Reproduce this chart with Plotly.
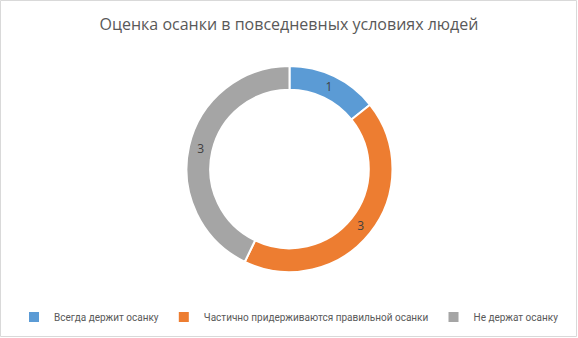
import plotly.graph_objects as go

title = "Оценка осанки в повседневных условиях людей"
labels = ["Всегда держит осанку", "Частично придерживаются правильной осанки", "Не держат осанку"]
values = [1, 3, 3]
colors = ["#5B9BD5", "#ED7D31", "#A5A5A5"]

W, H = 578, 338
cx, cy, R = 289.5, 169, 103

fig = go.Figure(go.Pie(
    labels=labels,
    values=values,
    hole=0.77,
    sort=False,
    direction="clockwise",
    rotation=0,
    marker=dict(colors=colors, line=dict(color="white", width=2)),
    textinfo="value",
    textposition="inside",
    insidetextorientation="horizontal",
    textfont=dict(family="Open Sans", size=12, color="#404040"),
    domain=dict(x=[(cx - R) / W, (cx + R) / W], y=[(H - cy - R) / H, (H - cy + R) / H]),
))

fig.update_layout(
    width=W, height=H,
    margin=dict(l=0, r=0, t=0, b=0),
    paper_bgcolor="white",
    plot_bgcolor="white",
    title=dict(text=title, x=0.5, xanchor="center", y=1 - 24 / H, yanchor="middle",
               xref="paper", yref="container",
               font=dict(family="Open Sans", size=16, color="#595959")),
    legend=dict(orientation="h", x=0.5, xanchor="center", y=21 / H, yanchor="middle",
                font=dict(family="Roboto", size=10, color="#595959"),
                itemwidth=30, traceorder="normal"),
    shapes=[dict(type="rect", xref="paper", yref="paper", x0=0.5 / W, x1=1 - 1.5 / W,
                 y0=1.5 / H, y1=1 - 0.5 / H, line=dict(color="#D9D9D9", width=1))],
)

fig.write_html("out.html", config={"displayModeBar": False},
               post_script="document.body.style.margin='0';")
